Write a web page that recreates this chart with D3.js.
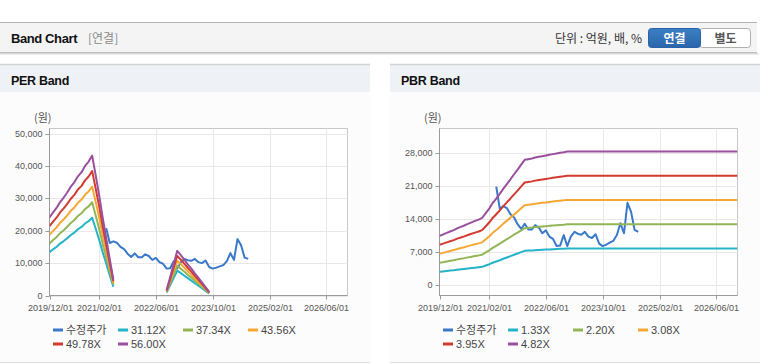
<!DOCTYPE html>
<html>
<head>
<meta charset="utf-8">
<script src="https://cdn.jsdelivr.net/npm/d3@7/dist/d3.min.js"></script>
<style>
  body { margin:0; background:#fff; }
  svg { display:block; font-family:"Liberation Sans","Noto Sans CJK KR",sans-serif; }
  .tick text { font-family:"Liberation Sans",sans-serif; font-size:9px; fill:#555; }
  .tick line { stroke:#999; }
</style>
</head>
<body>
<svg id="chart" width="760" height="364"></svg>
<script>
// x axis ticks shared by both panels
var xTickLabels = ["2019/12/01","2021/02/01","2022/06/01","2023/10/01","2025/02/01","2026/06/01"];
var xDomain = ["2019/12/01","2026/12/01"];

// adjusted price (monthly from priceStart)
var priceStart = "2021/04/01";
var priceValues = [20800,16200,16700,16300,15000,14300,12900,11900,13000,11800,
                   11800,12700,12200,11000,11600,10300,9800,8300,8400,10600,
                   8300,10300,11300,10900,10700,11300,10300,10000,10800,8800,
                   8300,8600,9000,9400,10700,13100,11000,17400,15500,11700,11300];

// PER band: monthly EPS base, null where there is no band
var perStart = "2019/12/01";
var perEps = [430,458,484,515,540,568,600,624,657,680,714,738,771,660,545,430,315,200,88,
              null,null,null,null,null,null,null,null,null,null,null,null,null,null,
              30,100,175,246,222,196,172,148,122,97,72,46,20];
var perMultiples = [31.12,37.34,43.56,49.78,56.00];
var perYTicks = [0,10000,20000,30000,40000,50000];
var perYDomain = [0,51550];

// PBR band: monthly BPS base, then held flat to the end date
var pbrStart = "2019/12/01";
var pbrBps = [2170,2230,2300,2360,2420,2500,2560,2620,2690,2760,2820,2880,2950,
              3160,3370,3600,3800,4000,4230,4430,4640,4860,5060,5280,5490,
              5520,5550,5590,5620,5650,5680,5710,5740,5770,5800,5820,5850];
var pbrEndDate = "2026/12/01";
var pbrMultiples = [1.33,2.20,3.08,3.95,4.82];
var pbrYTicks = [0,7000,14000,21000,28000];
var pbrYDomain = [-2110,33060];

var priceLabel = "수정주가";
var priceColor = "#3a78c9";
var bandColors = ["#25b3c8","#92b557","#f5a733","#d23a2f","#9a509f"];

var parse = d3.timeParse("%Y/%m/%d");
var svg = d3.select("#chart");

//month dates starting at a given day
var monthDates = function(start, n)
{
    var s = parse(start);
    return d3.range(n).map(function(i){ return d3.timeMonth.offset(s, i); });
}

//page header bar
var drawHeader = function()
{
    svg.append("rect").attr("x",0).attr("y",22).attr("width",757).attr("height",31)
        .attr("fill","#f4f4f4");
    svg.append("line").attr("x1",0).attr("x2",757).attr("y1",22.5).attr("y2",22.5)
        .attr("stroke","#b4b4b4");
    [["#bdbdbd",1],["#d8d8d8",0.8],["#ececec",0.6]].forEach(function(c,i)
    {
        svg.append("line").attr("x1",0).attr("x2",757+i).attr("y1",52.5+i).attr("y2",52.5+i)
            .attr("stroke",c[0]);
    });
    svg.append("text").attr("x",11).attr("y",43).text("Band Chart")
        .attr("font-size","13px").attr("font-weight","bold").attr("fill","#111")
        .attr("letter-spacing","-0.4px");
    svg.append("text").attr("x",88).attr("y",43).text("[연결]")
        .attr("font-family","Noto Sans CJK KR").attr("font-size","12px").attr("fill","#8a8a8a");
    svg.append("text").attr("x",642).attr("y",42.5).attr("text-anchor","end")
        .text("단위 : 억원, 배, %")
        .attr("font-family","Noto Sans CJK KR").attr("font-size","12px").attr("fill","#333");

    var grad = svg.append("defs").append("linearGradient").attr("id","btn")
        .attr("x1",0).attr("x2",0).attr("y1",0).attr("y2",1);
    grad.append("stop").attr("offset","0%").attr("stop-color","#3c7fc4");
    grad.append("stop").attr("offset","100%").attr("stop-color","#2a65ab");

    svg.append("rect").attr("x",699.5).attr("y",28.5).attr("width",51).attr("height",19)
        .attr("rx",3).attr("fill","#fff").attr("stroke","#b0b0b0");
    svg.append("rect").attr("x",648.5).attr("y",28.5).attr("width",52).attr("height",19)
        .attr("rx",3).attr("fill","url(#btn)").attr("stroke","#2a62a6");
    svg.append("text").attr("x",674.5).attr("y",42.5).attr("text-anchor","middle").text("연결")
        .attr("font-family","Noto Sans CJK KR").attr("font-weight","bold")
        .attr("font-size","12px").attr("fill","#fff");
    svg.append("text").attr("x",725.5).attr("y",42.5).attr("text-anchor","middle").text("별도")
        .attr("font-family","Noto Sans CJK KR").attr("font-weight","bold")
        .attr("font-size","12px").attr("fill","#555");
}

//one band panel
var drawPanel = function(px, title, yDomain, yTicks, series, multiples, clipId)
{
    var screen = {width:370, height:300};
    var plot = {left:px+49.5, right:px+347.5, top:128.5, bottom:295.5};

    var g = svg.append("g");
    g.append("rect").attr("x",px).attr("y",64).attr("width",screen.width).attr("height",298)
        .attr("fill","#fcfcfc");
    g.append("rect").attr("x",px).attr("y",64).attr("width",screen.width).attr("height",28)
        .attr("fill","#eef2f7");
    g.append("line").attr("x1",px).attr("x2",px+screen.width).attr("y1",64.5).attr("y2",64.5)
        .attr("stroke","#d2d2d2").attr("stroke-width",1.5);
    g.append("line").attr("x1",px).attr("x2",px+screen.width).attr("y1",362.5).attr("y2",362.5)
        .attr("stroke","#dcdcdc");
    g.append("text").attr("x",px+11).attr("y",85).text(title)
        .attr("font-size","12.5px").attr("font-weight","bold").attr("fill","#111")
        .attr("letter-spacing","-0.3px");
    g.append("text").attr("x",px+34).attr("y",122).text("(원)")
        .attr("font-family","Noto Sans CJK KR").attr("font-size","11px").attr("fill","#555");

    var xScale = d3.scaleTime()
        .domain(xDomain.map(parse))
        .range([plot.left, plot.right]);
    var yScale = d3.scaleLinear()
        .domain(yDomain)
        .range([plot.bottom, plot.top]);

    //grid
    g.append("rect").attr("x",plot.left).attr("y",plot.top)
        .attr("width",plot.right-plot.left).attr("height",plot.bottom-plot.top)
        .attr("fill","#fff").attr("stroke","#c8c8c8");
    g.selectAll(".hgrid").data(yTicks).enter().append("line")
        .attr("x1",plot.left).attr("x2",plot.right)
        .attr("y1",function(d){ return Math.round(yScale(d))+0.5; })
        .attr("y2",function(d){ return Math.round(yScale(d))+0.5; })
        .attr("stroke","#e8e8e8");
    g.selectAll(".vgrid").data(xTickLabels.slice(1)).enter().append("line")
        .attr("y1",plot.top).attr("y2",plot.bottom)
        .attr("x1",function(d){ return Math.round(xScale(parse(d)))+0.5; })
        .attr("x2",function(d){ return Math.round(xScale(parse(d)))+0.5; })
        .attr("stroke","#e8e8e8");

    //axes
    var xAxis = d3.axisBottom(xScale)
        .tickValues(xTickLabels.map(parse))
        .tickFormat(d3.timeFormat("%Y/%m/%d"))
        .tickSize(4).tickPadding(3).offset(0);
    var yAxis = d3.axisLeft(yScale)
        .tickValues(yTicks)
        .tickFormat(d3.format(","))
        .tickSize(4).tickPadding(3).offset(0);
    var xg = g.append("g").attr("transform","translate(0,"+plot.bottom+")").call(xAxis);
    var yg = g.append("g").attr("transform","translate("+plot.left+",0)").call(yAxis);
    xg.select(".domain").remove();
    yg.select(".domain").remove();
    xg.selectAll(".tick").attr("transform",function(d){
        return "translate("+(Math.round(xScale(d))+0.5)+",0)"; });
    yg.selectAll(".tick").attr("transform",function(d){
        return "translate(0,"+(Math.round(yScale(d))+0.5)+")"; });
    xg.selectAll("text").attr("dy","0.95em");
    g.append("line").attr("x1",plot.left).attr("x2",plot.left)
        .attr("y1",plot.top).attr("y2",plot.bottom).attr("stroke","#9a9a9a");
    g.append("line").attr("x1",plot.left).attr("x2",plot.right)
        .attr("y1",plot.bottom).attr("y2",plot.bottom).attr("stroke","#9a9a9a");

    //lines
    svg.append("clipPath").attr("id",clipId).append("rect")
        .attr("x",plot.left).attr("y",plot.top)
        .attr("width",plot.right-plot.left).attr("height",plot.bottom-plot.top);
    var line = d3.line()
        .defined(function(d){ return d.v != null; })
        .x(function(d){ return xScale(d.date); })
        .y(function(d){ return yScale(d.v); });
    var lines = g.append("g").attr("clip-path","url(#"+clipId+")");
    series.forEach(function(s)
    {
        lines.append("path").datum(s.points)
            .attr("d",line)
            .attr("fill","none")
            .attr("stroke",s.color)
            .attr("stroke-width",2)
            .attr("stroke-linejoin","round");
    });

    //legend
    var labels = [priceLabel].concat(multiples.map(function(m){ return m.toFixed(2)+"X"; }));
    var colors = [priceColor].concat(bandColors);
    var items = g.selectAll(".leg").data(labels).enter().append("g")
        .attr("transform",function(d,i){
            return "translate("+(plot.left+3.5+65*(i%4))+","+(330+14*Math.floor(i/4))+")"; });
    items.append("rect").attr("x",0).attr("y",-1.5).attr("width",10).attr("height",3)
        .attr("fill",function(d,i){ return colors[i]; });
    items.append("text").attr("x",13).attr("y",4).text(function(d){ return d; })
        .attr("font-size","11px").attr("fill","#444");
}

var priceDates = monthDates(priceStart, priceValues.length);
var pricePoints = priceValues.map(function(v,i){ return {date:priceDates[i], v:v}; });

var perDates = monthDates(perStart, perEps.length);
var perSeries = [{color:priceColor, points:pricePoints}].concat(perMultiples.map(function(m,j)
{
    return {color:bandColors[j], points:perEps.map(function(e,i){
        return {date:perDates[i], v:(e == null ? null : e*m)}; })};
}));

var pbrDates = monthDates(pbrStart, pbrBps.length).concat([parse(pbrEndDate)]);
var pbrBase = pbrBps.concat([pbrBps[pbrBps.length-1]]);
var pbrSeries = [{color:priceColor, points:pricePoints}].concat(pbrMultiples.map(function(m,j)
{
    return {color:bandColors[j], points:pbrBase.map(function(b,i){
        return {date:pbrDates[i], v:b*m}; })};
}));

drawHeader();
drawPanel(0, "PER Band", perYDomain, perYTicks, perSeries, perMultiples, "clipPer");
drawPanel(390, "PBR Band", pbrYDomain, pbrYTicks, pbrSeries, pbrMultiples, "clipPbr");
</script>
</body>
</html>
